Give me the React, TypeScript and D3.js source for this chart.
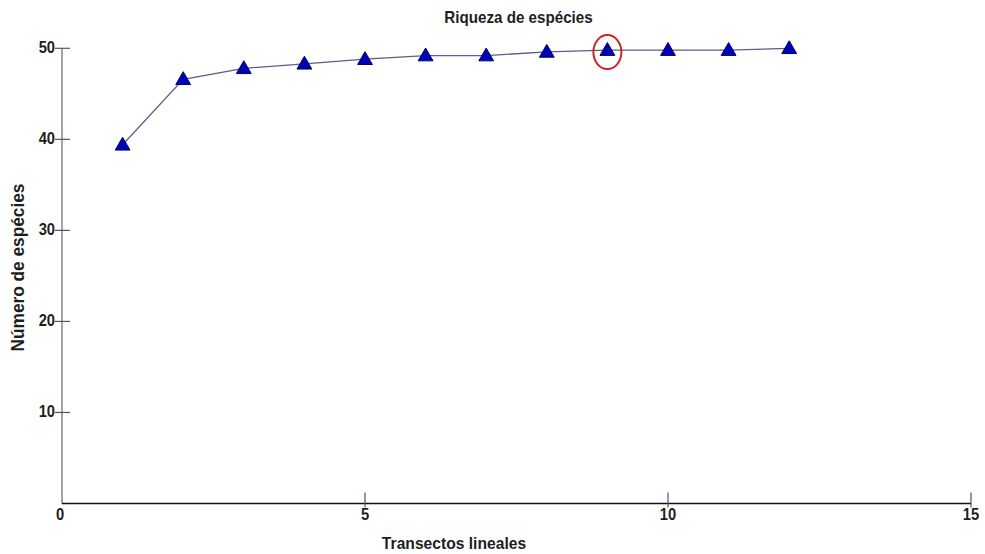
import React from "react";
import * as d3 from "d3";

const transects = [1, 2, 3, 4, 5, 6, 7, 8, 9, 10, 11, 12];
const species = [39.4, 46.6, 47.8, 48.3, 48.8, 49.2, 49.2, 49.6, 49.8, 49.8, 49.8, 50.0];
const xTicks = [0, 5, 10, 15];
const yTicks = [10, 20, 30, 40, 50];
const highlighted = 9;

const W = 985;
const H = 554;
const FONT = "'Liberation Sans', Arial, sans-serif";

// bold, slightly condensed text like the original export
const Label = ({ x, y, size, anchor = "middle", rotate = 0, sx = 0.92, children }: any) => (
  <text
    transform={`translate(${x},${y}) rotate(${rotate}) scale(${sx},1)`}
    textAnchor={anchor}
    fontFamily={FONT}
    fontWeight="bold"
    fontSize={size}
    fill="#1e1e1e"
  >
    {children}
  </text>
);

export default function App() {
  const x = d3.scaleLinear().domain([0, 15]).range([62, 971]);
  const y = d3.scaleLinear().domain([0, 50]).range([503.5, 48.3]);

  const pts = transects.map((t, i) => [t, species[i]] as [number, number]);
  const line = d3
    .line<[number, number]>()
    .x((d) => x(d[0]))
    .y((d) => y(d[1]));
  const tri = d3.symbol(d3.symbolTriangle, 95)();

  const hiVal = species[transects.indexOf(highlighted)];

  return (
    <div style={{ position: "absolute", left: 0, top: 0 }}>
      <svg width={W} height={H} style={{ display: "block", background: "#fff" }}>
        {/* axes */}
        <line x1={x(0)} x2={x(0)} y1={y(0)} y2={y(50)} stroke="#666" strokeWidth={1.2} />
        <line x1={x(0)} x2={x(15)} y1={y(0)} y2={y(0)} stroke="#111" strokeWidth={1.4} />

        {yTicks.map((t) => (
          <g key={"y" + t}>
            <line x1={x(0) - 7} x2={x(0) + 8} y1={y(t)} y2={y(t)} stroke="#555" strokeWidth={1.2} />
            <Label x={x(0) - 7} y={y(t) + 5} size={16} anchor="end">
              {t}
            </Label>
          </g>
        ))}

        {xTicks.map((t) => (
          <g key={"x" + t}>
            {t > 0 && (
              <line x1={x(t)} x2={x(t)} y1={y(0) - 11} y2={y(0) + 4} stroke="#555" strokeWidth={1.2} />
            )}
            <Label x={x(t) - (t === 0 ? 2 : 0)} y={y(0) + 16.5} size={16}>
              {t}
            </Label>
          </g>
        ))}

        {/* series */}
        <path d={line(pts) || ""} fill="none" stroke="#5c5c8e" strokeWidth={1.3} />
        {pts.map((p, i) => (
          <path
            key={i}
            d={tri || ""}
            transform={`translate(${x(p[0])},${y(p[1]) + 1})`}
            fill="#0000b4"
            stroke="#00006e"
            strokeWidth={1}
          />
        ))}

        {/* highlight */}
        <ellipse
          cx={x(highlighted)}
          cy={y(hiVal) + 2}
          rx={14}
          ry={17}
          fill="none"
          stroke="#c8282d"
          strokeWidth={2}
        />

        <Label x={518.5} y={22.5} size={16.5}>
          Riqueza de espécies
        </Label>
        <Label x={454} y={549} size={17}>
          Transectos lineales
        </Label>
        <Label x={24} y={267.5} size={18} rotate={-90} sx={0.96}>
          Número de espécies
        </Label>
      </svg>
    </div>
  );
}
